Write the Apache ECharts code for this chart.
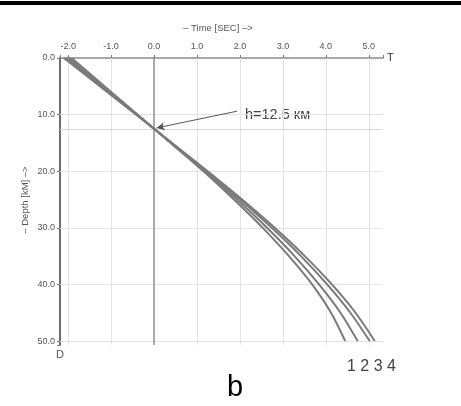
<!DOCTYPE html>
<html>
<head>
<meta charset="utf-8">
<script src="https://cdn.jsdelivr.net/npm/echarts@6/dist/echarts.min.js"></script>
<style>
html,body{margin:0;padding:0;background:#fff;}
#c{width:461px;height:406px;}
</style>
</head>
<body>
<div id="c"></div>
<script>
// ---- data ----
const depths = [0, 12.5, 20, 25, 30, 35, 40, 45, 50];
const curve1 = [-1.92, 0, 1.15, 1.86, 2.53, 3.14, 3.68, 4.12, 4.45];
const curve2 = [-1.98, 0, 1.18, 1.93, 2.63, 3.27, 3.84, 4.34, 4.74];
const curve3 = [-2.04, 0, 1.22, 2.00, 2.74, 3.42, 4.03, 4.57, 5.02];
const curve4 = [-2.10, 0, 1.25, 2.05, 2.81, 3.51, 4.14, 4.69, 5.14];
const xTicks = [-2, -1, 0, 1, 2, 3, 4, 5];
const yTicks = [0, 10, 20, 30, 40, 50];
const hypoDepth = 12.5;
const arrowFrom = [1.93, 9.4];
const arrowTo = [0.06, 12.35];

const FONT = 'Liberation Sans, Arial, sans-serif';
const chart = echarts.init(document.getElementById('c'), null, {renderer: 'canvas'});

function pairs(ts) { return ts.map((t, i) => [t, depths[i]]); }
function fmt(v) {
  const r = Math.round(v * 10) / 10;
  return xTicks.concat(yTicks).some(k => Math.abs(k - r) < 1e-9 && Math.abs(v - r) < 1e-9) ? r.toFixed(1) : '';
}

const curveSeries = [curve1, curve2, curve3, curve4].map((c, i) => ({
  type: 'line',
  name: 'c' + (i + 1),
  data: pairs(c),
  smooth: 0.25,
  symbol: 'none',
  z: 5,
  lineStyle: {color: '#7a7a7a', width: 2}
}));

chart.setOption({
  backgroundColor: '#fff',
  animation: false,
  grid: {left: 60, top: 58, width: 323, height: 287, containLabel: false},
  xAxis: {
    type: 'value',
    position: 'top',
    min: -2.19,
    max: 5.33,
    splitNumber: 7,
    name: 'T',
    nameLocation: 'end',
    nameGap: 4,
    nameTextStyle: {fontFamily: FONT, fontSize: 11, color: '#333'},
    axisLine: {show: true, onZero: false, lineStyle: {color: '#8a8a8a', width: 1.5}},
    axisTick: {show: true, inside: false, length: 3, lineStyle: {color: '#777'}},
    axisLabel: {fontFamily: FONT, fontSize: 9, color: '#555', margin: 7, formatter: fmt},
    splitLine: {show: false}
  },
  yAxis: {
    type: 'value',
    inverse: true,
    min: 0,
    max: 50.7,
    splitNumber: 5,
    name: 'D',
    nameLocation: 'end',
    nameGap: 4,
    nameTextStyle: {fontFamily: FONT, fontSize: 11, color: '#555', align: 'center'},
    axisLine: {show: true, onZero: false, lineStyle: {color: '#6e6e6e', width: 2}},
    axisTick: {show: true, length: 3, lineStyle: {color: '#777'}},
    axisLabel: {fontFamily: FONT, fontSize: 9, color: '#555', margin: 5, formatter: fmt},
    splitLine: {show: false}
  },
  series: [
    {
      type: 'line',
      data: [],
      z: 1,
      silent: true,
      markLine: {
        silent: true,
        symbol: ['none', 'none'],
        label: {show: false},
        lineStyle: {color: '#e2e2e2', width: 1, type: 'solid'},
        data: xTicks.filter(v => v !== 0).map(v => ({xAxis: v}))
          .concat(yTicks.filter(v => v !== 0).map(v => ({yAxis: v})))
          .concat([{yAxis: hypoDepth, lineStyle: {color: '#d6d6d6', width: 1}}])
          .concat([{xAxis: 0, lineStyle: {color: '#8c8c8c', width: 1.5}}])
      }
    },
    ...curveSeries,
    {
      type: 'line',
      data: [],
      z: 6,
      markLine: {
        silent: true,
        symbol: ['none', 'arrow'],
        symbolSize: [6, 8],
        label: {show: false},
        lineStyle: {color: '#555', width: 1, type: 'solid'},
        data: [[{coord: arrowFrom}, {coord: arrowTo}]]
      }
    }
  ],
  graphic: [
    {type: 'rect', left: 0, top: 1, shape: {width: 461, height: 4}, style: {fill: '#000'}},
    {type: 'text', x: 218, y: 28, style: {text: '– Time [SEC] –>', fontFamily: FONT, fontSize: 9.5, fill: '#555', align: 'center', verticalAlign: 'middle'}},
    {type: 'text', x: 25, y: 200, rotation: Math.PI / 2, style: {text: '– Depth [kM] –>', fontFamily: FONT, fontSize: 9.5, fill: '#555', align: 'center', verticalAlign: 'middle'}},
    {type: 'text', x: 245, y: 115, style: {text: 'h=12.5 км', fontFamily: FONT, fontSize: 14.5, fill: '#444', align: 'left', verticalAlign: 'middle'}},
    {type: 'text', x: 347, y: 367, style: {text: '1 2 3 4', fontFamily: FONT, fontSize: 16, fill: '#444', align: 'left', verticalAlign: 'middle'}},
    {type: 'text', x: 235, y: 388, style: {text: 'b', fontFamily: FONT, fontSize: 29, fill: '#000', align: 'center', verticalAlign: 'middle'}}
  ]
});
</script>
</body>
</html>
